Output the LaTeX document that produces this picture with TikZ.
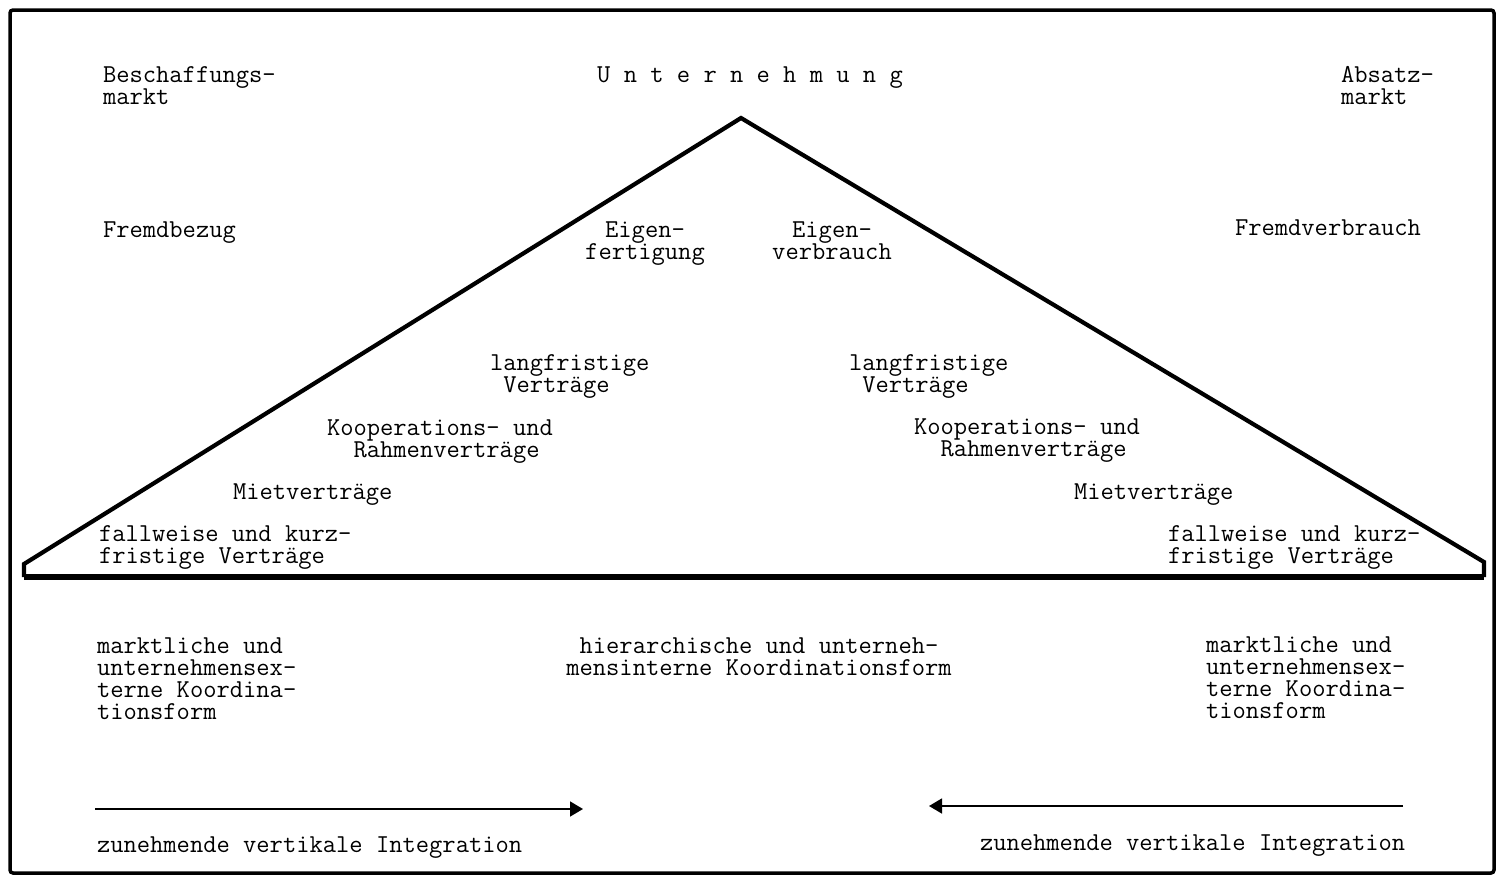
\documentclass[tikz,border=0pt]{standalone}
\usepackage{fontspec}
\usetikzlibrary{arrows.meta}
\begin{document}
\begin{tikzpicture}[x=1pt,y=-1pt,
  lbl/.style={inner sep=0pt,outer sep=0pt,font=\ttfamily\fontsize{25.8}{22}\selectfont},
  lw/.style={lbl,anchor=base west,align=left},
  lc/.style={lbl,anchor=base,align=center},
  frame/.style={line width=3.5pt},
  tri/.style={line width=4.2pt,line join=miter},
  arr/.style={line width=1.6pt,-{Triangle[length=13pt,width=15pt]}}]
\useasboundingbox (0,0) rectangle (1504,879);
% frame
\draw[frame,rounded corners=3pt] (10,10) rectangle (1494,873);
% triangle
\coordinate (apex) at (741,118);
\coordinate (lt) at (24,564);
\coordinate (lb) at (24,577);
\coordinate (rb) at (1484,577);
\coordinate (rt) at (1484,562);
\draw[tri] (lb) -- (lt) -- (apex) -- (rt) -- (rb);
\draw[line width=6pt] (lb) -- (rb);
% top labels (anchor = baseline of last line)
\node[lw] (besch) at (103,104) {Beschaffungs-\\markt};
\node[lc] (unt) at (750,82) {U n t e r n e h m u n g};
\node[lw] (absatz) at (1341,104) {Absatz-\\markt};
\node[lw] (fremdb) at (103,237) {Fremdbezug};
\node[lc] (eigf) at (645,259) {Eigen-\\fertigung};
\node[lc] (eigv) at (832,259) {Eigen-\\verbrauch};
\node[lw] (fremdv) at (1235,235) {Fremdverbrauch};
% left side contracts
\node[lw] (langl) at (490,392) {langfristige\\\hphantom{x}Verträge};
\node[lw] (koopl) at (327,457) {Kooperations- und\\\hphantom{xx}Rahmenverträge};
\node[lw] (mietl) at (233,499) {Mietverträge};
\node[lw] (falll) at (99,563) {fallweise und kurz-\\fristige Verträge};
% right side contracts
\node[lw] (langr) at (849,392) {langfristige\\\hphantom{x}Verträge};
\node[lw] (koopr) at (914,456) {Kooperations- und\\\hphantom{xx}Rahmenverträge};
\node[lw] (mietr) at (1074,499) {Mietverträge};
\node[lw] (fallr) at (1168,563) {fallweise und kurz-\\fristige Verträge};
% coordination forms
\node[lw] (markl) at (97,719) {marktliche und\\unternehmensex-\\terne Koordina-\\tionsform};
\node[lc] (hier) at (759,675) {hierarchische und unterneh-\\mensinterne Koordinationsform};
\node[lw] (markr) at (1206,718) {marktliche und\\unternehmensex-\\terne Koordina-\\tionsform};
% arrows
\coordinate (a1s) at (95,809);
\coordinate (a1e) at (583,809);
\coordinate (a2s) at (1403,806);
\coordinate (a2e) at (929,806);
\draw[arr] (a1s) -- (a1e);
\draw[arr] (a2s) -- (a2e);
\node[lw] (intl) at (97,852) {zunehmende vertikale Integration};
\node[lw] (intr) at (980,850) {zunehmende vertikale Integration};
\end{tikzpicture}
\end{document}
